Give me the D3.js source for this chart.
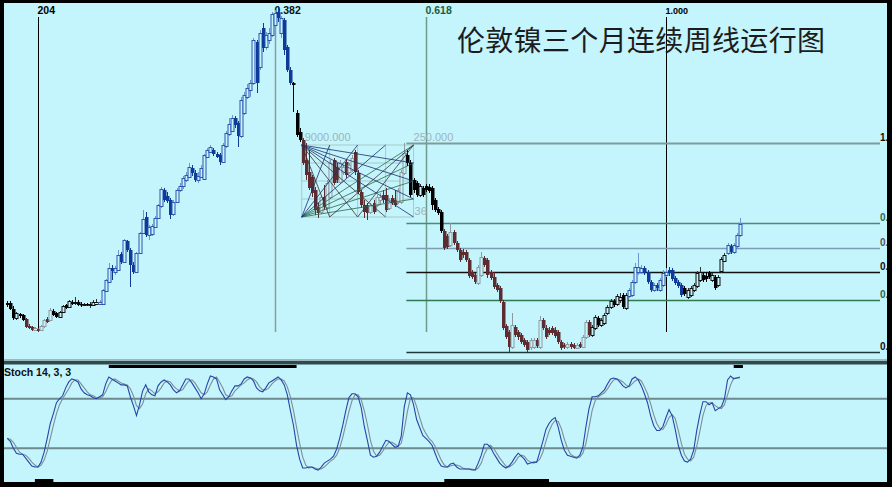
<!DOCTYPE html>
<html><head><meta charset="utf-8">
<script src="https://cdn.jsdelivr.net/npm/d3@7"></script>
<style>html,body{margin:0;padding:0;background:#000;overflow:hidden}svg{display:block}</style>
</head><body><svg id="c" width="892" height="487"></svg>
<script>
// LME 3-month nickel, weekly candles (USD/t)
const openP = [14925,14925,14175,13050,13550,13425,12925,12050,11925,11550,11675,11550,12050,12925,12800,13925,13675,13175,13800,14675,14425,15050,14925,15050,14800,14675,14800,14675,14675,14800,14800,14800,16425,17550,19300,18800,19050,21050,20050,22675,21550,19675,18800,21175,23675,25675,23425,23550,24425,25550,27050,29050,28300,27800,26050,27550,29050,29550,30300,30675,31800,31175,30300,30675,30425,33175,33800,34050,33550,33425,32550,34550,36050,36425,38050,37425,35800,38675,40675,41550,42425,47550,44425,49300,46925,47800,48425,49675,51300,48675,50300,46925,44050,42425,38675,36300,35300,32800,31300,30675,29050,26925,26300,28175,26925,28175,32800,31925,30050,31300,32550,31300,31550,33800,31175,28800,27175,27175,26300,27425,27175,27800,28425,28425,26800,28050,27800,27550,27550,31175,33425,32425,30300,29925,28425,29300,29550,29425,29300,27800,26675,26300,23925,23300,22175,23800,22425,21550,21300,21300,20300,18800,18425,17425,18425,20550,20300,18800,18175,17175,16800,15050,12050,11300,9425,11925,11300,10925,10300,10050,9425,9425,10300,9425,12800,11800,11550,11800,11550,11300,10050,9675,9425,9800,9675,9300,9800,9425,10675,12550,10925,11800,13050,12175,12425,13675,14425,15175,14800,15300,15925,14300,15800,15925,17550,18800,18800,19300,18800,17550,16550,17175,16550,17175,18425,19050,19050,18050,17550,17175,16800,15675,15925,16550,17050,17800,18425,18300,18675,17800,18175,17175,18925,20175,21175,22050,21300,22050,23425];
const highP = [15175,15175,14550,13800,13675,13550,13050,12300,12050,11925,11800,12175,12925,13175,14300,14175,13800,13925,14675,14800,15300,15300,15675,15300,15050,14925,14925,15050,15300,15425,15300,16675,17925,19925,19675,19550,21550,21300,22925,22800,21800,20050,21300,23800,26550,26300,24675,24800,25800,27300,29425,29300,28800,28050,27800,29300,29925,30800,31300,32425,32175,31550,31300,32175,33550,34300,34675,34300,33800,33675,34925,36425,38050,38425,38300,37675,40675,41300,42300,42800,48050,47800,49050,49925,48800,49300,51300,51550,51800,50800,50550,47175,44425,42550,39050,36800,35550,34925,34050,30925,29425,27425,28425,29675,30300,32800,33050,32425,32800,32175,32800,32425,33425,34050,31550,29050,27800,27425,27425,27800,28425,28675,29050,29300,28050,28425,29050,29300,31550,34925,34050,32800,30550,30175,29800,29550,29800,29800,29550,28050,26925,26550,24175,23550,24925,24050,22675,21800,21675,21550,20550,19050,18675,19675,21300,20800,20550,19050,18800,17425,17050,15300,12300,11550,13675,12175,11550,11175,10550,10300,10550,10550,10550,13300,13050,12175,11925,12050,11925,11550,10300,9925,10050,10050,9925,9925,10050,10925,12800,12800,12175,13425,13300,13050,13675,14675,15425,15425,16050,16175,16175,16175,16800,17800,19925,21175,19675,19550,19050,17800,17425,17425,18050,19050,19300,19425,19300,18300,17800,17425,17050,16800,17050,17425,18925,19425,18675,18800,18925,18675,18425,18425,20675,21175,22425,22300,22425,23675,25550];
const lowP = [14425,14050,12800,12800,13050,12675,11800,11675,11425,11425,11300,11425,11800,12425,12675,13300,13050,13050,13675,14175,14300,14675,14675,14550,14425,14550,14550,14300,14550,14675,14675,14675,16300,17425,17800,18425,18925,19800,19925,21300,16925,18550,18675,21050,23550,23175,22800,23300,24300,25425,26800,27550,27425,25425,25800,27425,28800,29175,30050,30550,30800,30050,29925,30550,30300,33050,33675,33300,33050,32175,32425,34300,35800,36300,36800,34425,35550,38425,40425,40675,42175,41175,44050,46300,46550,47300,48175,49300,50050,48050,45925,43800,42175,38800,35675,35050,32175,30300,29050,28175,25925,25550,26050,26550,26550,27925,29675,29925,29800,30925,30550,31050,31300,30925,28550,26800,25550,25300,26050,26050,26925,27175,27425,26300,26550,27175,26925,27300,27300,30925,32050,28175,28675,28175,28175,28175,28800,28675,26550,26300,25925,23675,21550,21675,21925,22175,21300,20050,20550,20050,18050,17925,17300,17175,18175,19425,18050,17800,16675,16300,14925,11550,10425,8800,9175,10675,10300,9800,9425,8800,9050,9175,9300,9175,11550,10425,10925,10925,10550,9800,9050,9175,9175,9175,9175,9175,9300,9300,10425,10675,10675,11550,11925,11925,12175,13425,14175,14425,14550,14925,14175,14050,15550,15675,17300,18425,18550,18425,17300,16300,16300,16425,16300,16925,18175,18300,17675,17175,16800,15675,15800,15425,15675,16300,16800,17550,17550,17550,17925,17550,16550,16925,18675,20175,20925,21050,21050,21800,23175];
const closeP = [14675,14175,13050,13675,13300,12800,11925,11800,11550,11800,11425,12050,12800,12550,14050,13425,13175,13800,14550,14300,15175,14800,15050,14675,14675,14800,14675,14800,15050,15050,15050,16550,17800,19300,18925,19300,20925,20050,22800,21550,19675,18800,21175,23675,25425,23425,24425,24550,25550,27175,29175,27800,27675,25925,27550,29050,29550,30550,30925,31925,31175,30300,30800,31800,33425,34050,34425,33550,33175,32550,34675,36175,37300,38050,37175,35800,40300,40925,41800,42425,47800,42425,48675,46800,48425,48675,51050,51175,50550,50550,46550,44050,42425,42175,35925,35300,32425,30925,29300,28675,26550,26175,28175,26925,29925,32425,29925,30300,32425,31925,30925,32175,33050,31300,28800,27175,26300,26175,27175,26300,28175,28175,27800,26550,27800,27425,27175,29050,31300,33675,32425,28425,29050,28425,29550,28425,29050,28925,27175,26550,26175,23925,21800,21925,23800,22425,21550,20300,20925,20300,18300,18175,17550,19425,20675,19675,18425,18050,16925,16550,15175,11800,10675,9425,12175,10925,10675,10050,9675,9050,10300,10300,9550,12800,11800,10675,11175,11175,10800,10050,9300,9425,9800,9425,9300,9675,9425,10675,12550,10925,11925,13175,12175,12800,13425,14425,15175,14675,15800,15675,14425,15925,16550,17550,19425,19425,19300,18675,17550,16550,17175,16800,17800,18675,18800,18675,17925,17425,17050,15925,16050,16550,16800,17175,18675,18800,17800,17925,18175,18425,16800,18175,20425,20925,22175,21300,22175,23425,24800];
// Stochastic 14,3,3 (%K, %D)
const stochK = [35,32,25,20,19,19,15,11,7,6,6,11,21,35,50,60,71,75,78,86,92,95,94,92,85,81,79,78,76,75,77,79,90,97,95,93,91,89,89,88,77,68,58,69,83,89,82,79,78,88,92,94,92,89,84,81,83,89,95,95,91,86,81,75,80,90,98,97,95,84,79,74,77,83,88,88,90,95,97,96,93,86,83,82,86,91,93,95,97,94,89,79,63,48,28,14,5,5,6,6,4,3,6,10,12,14,17,24,35,48,63,76,80,80,77,66,47,33,18,16,17,21,27,33,32,29,26,27,37,67,81,79,69,54,46,38,35,32,28,20,12,7,6,6,9,10,6,4,4,4,4,3,3,10,18,29,29,26,20,15,10,7,5,7,11,16,20,17,14,9,10,11,11,21,32,44,50,54,56,46,33,23,18,17,16,15,18,26,47,65,77,77,78,81,84,90,95,96,95,92,88,86,88,95,97,94,88,80,71,58,48,43,43,47,56,64,58,44,28,18,12,11,14,23,43,59,72,72,69,71,63,65,67,75,94,98,95,96,97];
const stochD = [35,34,31,26,21,19,18,15,11,8,6,8,13,22,35,48,60,69,75,80,85,91,94,94,90,86,82,79,78,76,76,77,82,89,94,95,93,91,90,89,85,78,68,65,70,80,85,83,80,82,86,91,93,92,88,85,83,84,89,93,94,91,86,81,79,82,89,95,97,92,86,79,77,78,83,86,89,91,94,96,95,92,87,84,84,86,90,93,95,95,93,87,77,63,46,30,16,8,5,6,5,4,4,6,9,12,14,18,25,36,49,62,73,79,79,74,63,49,33,22,17,18,22,27,31,31,29,27,30,44,62,76,76,67,56,46,40,35,32,27,20,13,8,6,7,8,8,7,5,4,4,4,3,5,10,19,25,28,25,20,15,11,7,6,8,11,16,18,17,13,11,10,11,14,21,32,42,49,53,52,45,34,25,19,17,16,16,20,30,46,63,73,77,79,81,85,90,94,95,94,92,89,87,90,93,95,93,87,80,70,59,50,45,44,49,56,59,55,43,30,19,14,12,16,27,42,58,68,71,71,68,66,65,69,79,89,96,96,96];
// trend state per bar range: n = neutral, d = down, u = up
const trendSegments = [[0,5,'n'],[6,14,'d'],[15,29,'n'],[30,92,'u'],[93,95,'n'],[96,129,'d'],[130,141,'n'],[142,189,'d'],[190,201,'n'],[202,219,'u'],[220,233,'n'],[234,238,'u']];
// time Fibonacci (bar indices) and labels
const timeFibStart = 10, timeFibEnd = 214;
const timeFibRatios = [0, 0.382, 0.618, 1.0];
const timeFibLabels = ['204', '0.382', '0.618', '1.000'];
// price Fibonacci retracement
const fibLowPrice = 8800, fibHighPrice = 34925, fibStartIdx = 130;
const fibRatios = [1, 0.618, 0.5, 0.382, 0.25, 0];
const fibLabels = ['1.', '0.', '0.', '0.', '0.', '0.'];
// Gann box
const boxStartIdx = 96, boxBars = 36, boxTopPrice = 34675, boxRange = 9000;
const boxLabels = ['9000.000', '250.000', '36'];
// stochastic levels and zone markers
const stochLevels = [75, 25];
const overboughtZones = [[33, 94], [236, 239]];
const oversoldZones = [[9, 15], [142, 176]];
const titleText = '伦敦镍三个月连续周线运行图';

const W = 892, H = 487;
const BG = '#c4f4fc';
const svg = d3.select('#c');
svg.append('rect').attr('width', W).attr('height', H).attr('fill', '#000');
const main = {x0: 4, x1: 887, y0: 3, y1: 359};
const sp = {x0: 4, x1: 887, y0: 363, y1: 482};
svg.append('rect').attr('x', main.x0).attr('y', main.y0).attr('width', main.x1 - main.x0).attr('height', main.y1 - main.y0).attr('fill', BG);
svg.append('rect').attr('x', main.x0).attr('y', 359).attr('width', main.x1 - main.x0).attr('height', 2).attr('fill', '#9fb8bc');
svg.append('rect').attr('x', main.x0).attr('y', 361).attr('width', main.x1 - main.x0).attr('height', 2).attr('fill', '#2e4a4c');
svg.append('rect').attr('x', sp.x0).attr('y', sp.y0).attr('width', sp.x1 - sp.x0).attr('height', sp.y1 - sp.y0).attr('fill', BG);

const defs = svg.append('defs');
defs.append('clipPath').attr('id', 'mclip').append('rect').attr('x', main.x0).attr('y', main.y0).attr('width', main.x1 - main.x0).attr('height', main.y1 - main.y0);
defs.append('clipPath').attr('id', 'sclip').append('rect').attr('x', sp.x0).attr('y', sp.y0).attr('width', sp.x1 - sp.x0).attr('height', sp.y1 - sp.y0);

const n = closeP.length;
const x = d3.scaleLinear().domain([0, n - 1]).range([7.2, 7.2 + (n - 1) * 3.0784]);
const y = d3.scaleLinear().domain([52800, 8800]).range([0, 352]);
const ys = d3.scaleLinear().domain([0, 100]).range([473, 374]);

const g = svg.append('g').attr('clip-path', 'url(#mclip)');

// time fib vertical lines
const tfColors = ['#000', '#8a9c9c', '#6f9a8c', '#000'];
const tfText = ['#000', '#111', '#1d5a3e', '#000'];
timeFibRatios.forEach((r, k) => {
  const idx = timeFibStart + Math.floor(r * (timeFibEnd - timeFibStart));
  const xx = Math.round(x(idx)) + 0.5;
  g.append('line').attr('x1', xx).attr('x2', xx).attr('y1', 17).attr('y2', 332)
    .attr('stroke', tfColors[k]).attr('stroke-width', k === 1 || k === 2 ? 1.5 : 1);
  g.append('text').attr('x', xx - 1).attr('y', 14).text(timeFibLabels[k])
    .attr('font-family', 'Liberation Sans, Arial, sans-serif').attr('font-weight', 'bold')
    .attr('font-size', k === 3 ? 9 : 10.5).attr('fill', tfText[k]);
});

// price fib horizontal lines
const fibColors = ['#7f9c9c', '#4a8a76', '#7e9cb2', '#111', '#2e7a52', '#1c3838'];
const fibTextColors = ['#111', '#2e6a4a', '#555', '#111', '#2e6a4a', '#111'];
const fx0 = x(fibStartIdx) - 1;
fibRatios.forEach((r, k) => {
  const p = fibLowPrice + r * (fibHighPrice - fibLowPrice);
  const yy = Math.round(y(p)) + 0.5;
  g.append('line').attr('x1', fx0).attr('x2', 880).attr('y1', yy).attr('y2', yy)
    .attr('stroke', fibColors[k]).attr('stroke-width', k === 0 ? 2 : 1.5);
  g.append('text').attr('x', 880).attr('y', yy - 3).text(fibLabels[k])
    .attr('font-family', 'Liberation Sans, Arial, sans-serif').attr('font-weight', 'bold')
    .attr('font-size', 10).attr('fill', fibTextColors[k]);
});

// Gann box grid
const bx0 = x(boxStartIdx) - 1, bx1 = x(boxStartIdx + boxBars);
const by0 = y(boxTopPrice), by1 = y(boxTopPrice - boxRange);
const bw = bx1 - bx0, bh = by1 - by0;
const gb = g.append('g');
[0, 0.25, 0.5, 0.75, 1].forEach(f => {
  gb.append('line').attr('x1', bx0 + f * bw).attr('x2', bx0 + f * bw).attr('y1', by0).attr('y2', by1).attr('stroke', '#a9caca').attr('stroke-width', 1);
  gb.append('line').attr('x1', bx0).attr('x2', bx1).attr('y1', by0 + f * bh).attr('y2', by0 + f * bh).attr('stroke', '#a9caca').attr('stroke-width', 1);
});

// candles
function stateOf(i) { for (const s of trendSegments) if (i >= s[0] && i <= s[1]) return s[2]; return 'n'; }
const pal = {
  n: {down: '#000', up: '#111', wick: '#000', upWick: '#333'},
  d: {down: '#5c2c30', up: '#8e9aa0', wick: '#5c2c30', upWick: '#8e9aa0'},
  u: {down: '#0e3a98', up: '#2c56b0', wick: '#0e3a98', upWick: '#6f94d0'}
};
const cg = g.append('g');
d3.range(n).forEach(i => {
  const c = pal[stateOf(i)];
  const up = closeP[i] > openP[i];
  const xc = Math.round(x(i)) + 0.5;
  cg.append('line').attr('x1', xc).attr('x2', xc).attr('y1', y(highP[i])).attr('y2', y(lowP[i]))
    .attr('stroke', up ? c.upWick : c.wick).attr('stroke-width', 1);
  const top = y(Math.max(openP[i], closeP[i])), bot = y(Math.min(openP[i], closeP[i]));
  if (up) {
    cg.append('rect').attr('x', xc - 1.5).attr('y', Math.round(top) + 0.5).attr('width', 3)
      .attr('height', Math.max(1, Math.round(bot - top))).attr('fill', BG).attr('stroke', c.up).attr('stroke-width', 1);
  } else {
    cg.append('rect').attr('x', xc - 1.5).attr('y', Math.round(top)).attr('width', 3.5)
      .attr('height', Math.max(1.5, Math.round(bot - top))).attr('fill', c.down);
  }
});

// Gann fan lines (drawn over candles)
const fan = [];
[0, 0.25, 0.5, 0.75].forEach(f => fan.push([bx0, by1, bx1, by0 + f * bh, '#2a6a48']));
[0.25, 0.5, 0.75].forEach(f => fan.push([bx0, by1, bx0 + f * bw, by0, '#1b2f6e']));
[0.25, 0.5, 0.75, 1].forEach(f => fan.push([bx0, by0, bx1, by0 + f * bh, '#1b2f6e']));
[0.25, 0.5, 0.75].forEach(f => fan.push([bx0, by0, bx0 + f * bw, by1, '#333']));
[0.25, 0.5].forEach(f => fan.push([bx1, by0, bx0 + f * bw, by1, '#333']));
fan.forEach(l => g.append('line').attr('x1', l[0]).attr('y1', l[1]).attr('x2', l[2]).attr('y2', l[3]).attr('stroke', l[4]).attr('stroke-width', 0.8));
const lblStyle = s => s.attr('font-family', 'Liberation Sans, Arial, sans-serif').attr('font-size', 11).attr('fill', '#9db4ba');
lblStyle(g.append('text').attr('x', bx0 + 3).attr('y', by0 - 4).text(boxLabels[0]));
lblStyle(g.append('text').attr('x', bx1).attr('y', by0 - 4).text(boxLabels[1]));
lblStyle(g.append('text').attr('x', bx1 + 1).attr('y', by1 - 2).text(boxLabels[2]));

// title
svg.append('text').attr('x', 457).attr('y', 51).text(titleText)
  .attr('font-family', 'Noto Sans CJK SC, sans-serif').attr('font-size', 28).attr('font-weight', 400)
  .attr('fill', '#1c1c1c').attr('textLength', 368);

// stochastic panel
const sg = svg.append('g').attr('clip-path', 'url(#sclip)');
sg.append('rect').attr('x', sp.x0).attr('y', sp.y0).attr('width', sp.x1 - sp.x0).attr('height', 1.5).attr('fill', '#2e4a4c');
stochLevels.forEach(v => sg.append('line').attr('x1', sp.x0).attr('x2', sp.x1).attr('y1', ys(v)).attr('y2', ys(v)).attr('stroke', '#6d8a8e').attr('stroke-width', 2));
const line = d3.line().x((d, i) => x(i)).y(d => ys(d));
sg.append('path').datum(stochD).attr('d', line).attr('fill', 'none').attr('stroke', '#7f8c9a').attr('stroke-width', 1.1);
sg.append('path').datum(stochK).attr('d', line).attr('fill', 'none').attr('stroke', '#2446a8').attr('stroke-width', 1.1);
overboughtZones.forEach(z => sg.append('rect').attr('x', x(z[0])).attr('y', 365).attr('width', x(z[1]) - x(z[0])).attr('height', 3).attr('fill', '#000'));
oversoldZones.forEach(z => sg.append('rect').attr('x', x(z[0])).attr('y', 479).attr('width', x(z[1]) - x(z[0])).attr('height', 3).attr('fill', '#000'));
svg.append('text').attr('x', 4).attr('y', 375.5).text('Stoch 14, 3, 3')
  .attr('font-family', 'Liberation Sans, Arial, sans-serif').attr('font-weight', 'bold').attr('font-size', 10.5).attr('fill', '#111');
</script></body></html>
